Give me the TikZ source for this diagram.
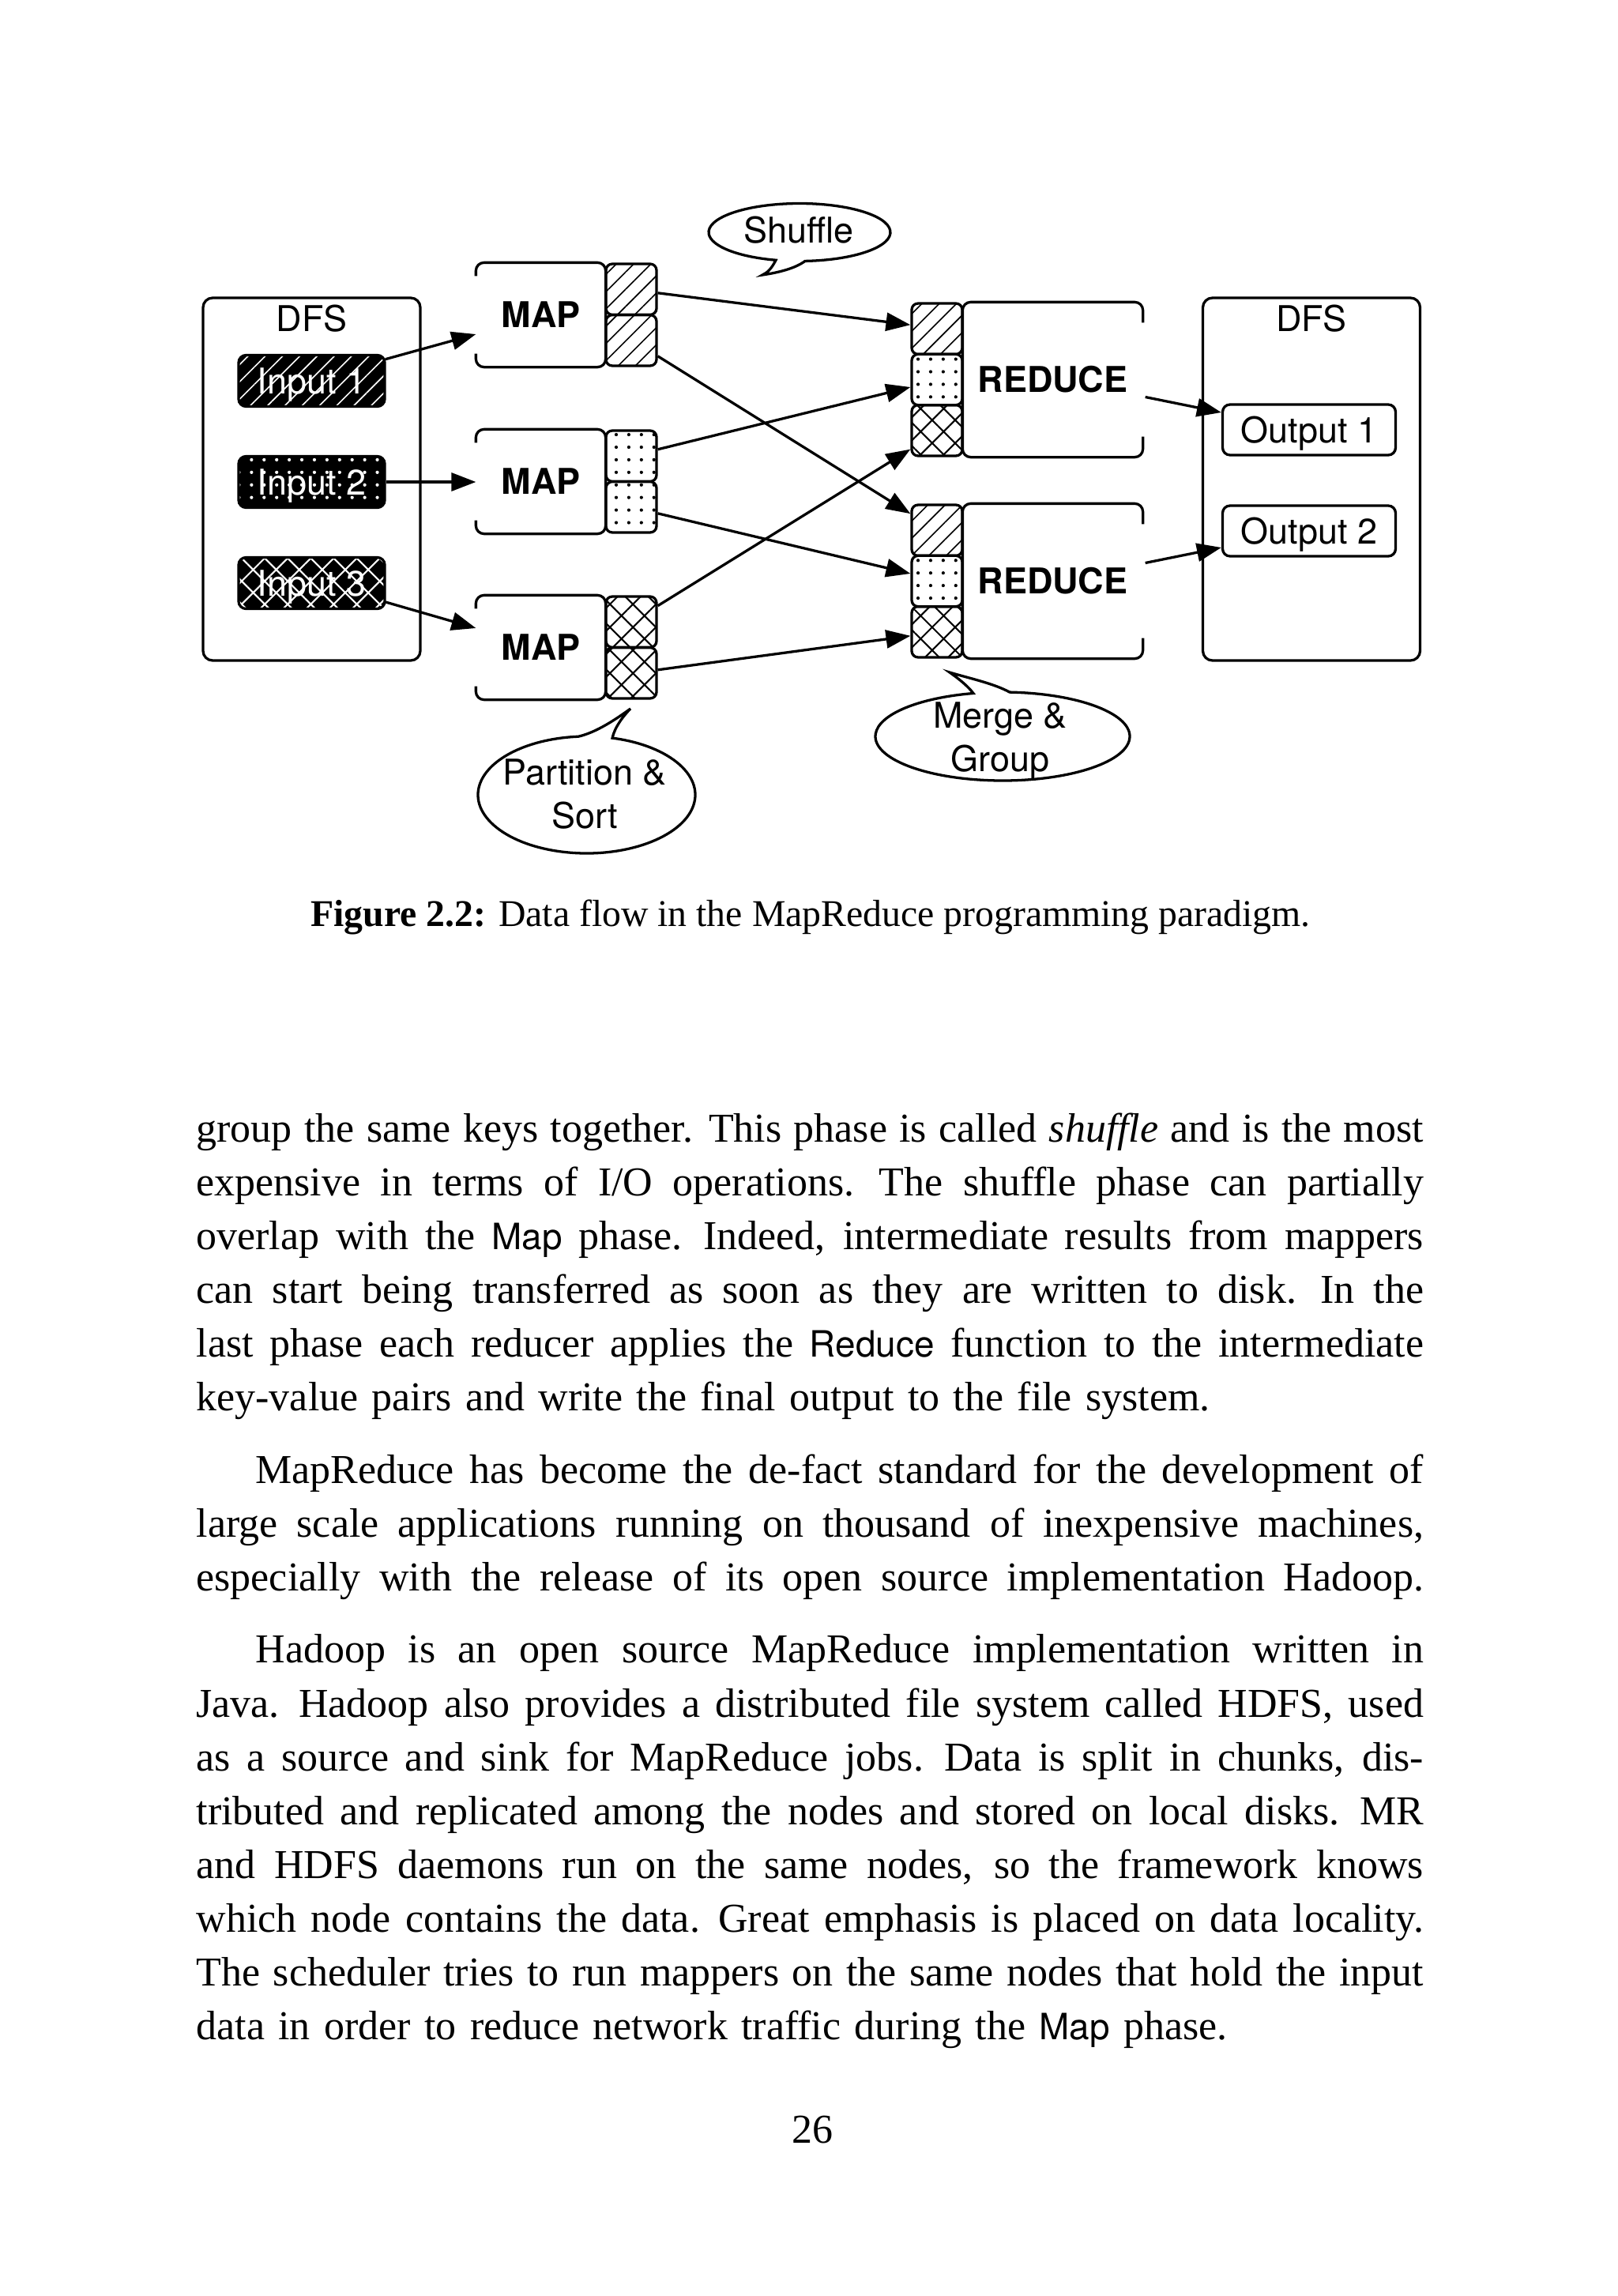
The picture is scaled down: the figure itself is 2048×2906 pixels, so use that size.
\documentclass[tikz,border=0pt]{standalone}
\usepackage{fontspec}
\setmainfont{Liberation Serif}
\setsansfont{TeX Gyre Heros}
\usetikzlibrary{arrows.meta,patterns.meta,calc}
\newlength{\pxu}
\setlength{\pxu}{0.2136pt}
\newlength{\bodyw}
\setlength{\bodyw}{331.8pt}
\newcommand{\sfw}[1]{{\sffamily\fontsize{9.8}{14.55}\selectfont #1}}
\newcommand{\jline}[1]{\hbox to\bodyw{\spaceskip=0.25em plus 0.3em minus 0.1em\xspaceskip=0.33em plus 0.35em minus 0.1em #1}}
\newcommand{\lline}[1]{\hbox{#1}}
\begin{document}
\begin{tikzpicture}[x=\pxu, y=-\pxu,
  line width=0.7pt,
  dfont/.style={font=\sffamily\fontsize{9.6}{11.7}\selectfont},
  bfont/.style={font=\sffamily\bfseries\fontsize{9.6}{11.7}\selectfont},
  bubfont/.style={font=\sffamily\fontsize{9.6}{11.75}\selectfont},
  outline/.style={draw, line width=0.7pt, rounded corners=2.2pt},
  dfsbox/.style={draw, rounded corners=2.6pt, minimum width=275\pxu, minimum height=459\pxu, inner sep=0pt},
  inbox/.style={draw, rounded corners=2pt, minimum width=185\pxu, minimum height=65\pxu, inner sep=0pt, text=white, dfont, text depth=0pt, preaction={fill=black}, pattern color=white},
  outbox/.style={draw, rounded corners=2pt, minimum width=219\pxu, minimum height=64\pxu, inner sep=0pt, dfont, text depth=0pt},
  mapbox/.style={minimum width=161\pxu, minimum height=129\pxu, inner sep=0pt, bfont},
  redbox/.style={minimum width=225\pxu, minimum height=193\pxu, inner sep=0pt, bfont},
  partbox/.style={draw, rounded corners=1.7pt, minimum width=64\pxu, minimum height=64.3\pxu, inner sep=0pt},
  plines/.style={pattern={Lines[angle=45,distance=3.3pt,line width=0.35pt]}},
  pdots/.style={pattern={Dots[distance=3.4pt,radius=0.45pt]}},
  phatch/.style={pattern={Hatch[angle=45,distance=4.4pt,line width=0.45pt]}},
  arr/.style={-{Triangle[length=6.6pt,width=4.9pt]}, line width=0.7pt},
  bubble/.style={draw, fill=white, line width=0.7pt},
  lbl/.style={dfont, inner sep=0pt},
]
\fill[white] (0,0) rectangle (2048,2906);
\useasboundingbox (0,0) rectangle (2048,2906);

% ---------- left DFS ----------
\node[dfsbox] (dfsL) at (394.5,606.5) {};
\node[lbl, anchor=base] (dfsLt) at (394.5,419) {DFS};
\node[inbox, plines] (in1) at (394.5,482) {Input 1};
\node[inbox, pdots] (in2) at (394.5,610) {Input 2};
\node[inbox, phatch] (in3) at (394.5,738) {Input 3};

% ---------- MAP ----------
\node[mapbox] (map1) at (684.5,398.5) {MAP};
\node[mapbox] (map2) at (684.5,609.5) {MAP};
\node[mapbox] (map3) at (684.5,819.5) {MAP};
\foreach \m in {map1,map2,map3}
  \draw[outline] ($(\m.north west)+(0,17)$) |- (\m.north east) |- (\m.south west) -- ++(0,-17);

\node[partbox, plines] (m1a) at (799,366.2) {};
\node[partbox, plines] (m1b) at (799,430.8) {};
\node[partbox, pdots] (m2a) at (799,577.2) {};
\node[partbox, pdots] (m2b) at (799,641.8) {};
\node[partbox, phatch] (m3a) at (799,787.2) {};
\node[partbox, phatch] (m3b) at (799,851.8) {};

% ---------- REDUCE ----------
\node[redbox] (red1) at (1332.5,480.5) {REDUCE};
\node[redbox] (red2) at (1332.5,735.5) {REDUCE};
\foreach \r in {red1,red2}
  \draw[outline] ($(\r.north east)+(0,26)$) |- (\r.north west) |- (\r.south east) -- ++(0,-26);

\node[partbox, plines] (r1a) at (1186,416.2) {};
\node[partbox, pdots] (r1b) at (1186,480.5) {};
\node[partbox, phatch] (r1c) at (1186,544.8) {};
\node[partbox, plines] (r2a) at (1186,671.2) {};
\node[partbox, pdots] (r2b) at (1186,735.5) {};
\node[partbox, phatch] (r2c) at (1186,799.8) {};

% ---------- right DFS ----------
\node[dfsbox] (dfsR) at (1660,606.5) {};
\node[lbl, anchor=base] (dfsRt) at (1660,419) {DFS};
\node[outbox] (out1) at (1657,544) {Output 1};
\node[outbox] (out2) at (1657,672) {Output 2};

% ---------- arrows ----------
\draw[arr] ($(in1.north east)+(0,6)$) -- ($(map1.west)+(0,24.5)$);
\draw[arr] (in2.east) -- (in2.east -| map2.west);
\draw[arr] ($(in3.east)+(0,24)$) -- ($(map3.west)+(0,-24.5)$);

\draw[arr] ($(m1a.east)+(0,4.6)$) -- ($(r1a.west)+(0,-5)$);
\draw[arr] ($(m1b.east)+(0,20)$) -- ($(r2a.west)+(0,-21)$);
\draw[arr] ($(m2a.east)+(0,-8.4)$) -- ($(r1b.west)+(0,9.5)$);
\draw[arr] ($(m2b.east)+(0,8)$) -- ($(r2b.west)+(0,-9.5)$);
\draw[arr] ($(m3a.east)+(0,-20.5)$) -- ($(r1c.west)+(0,23.8)$);
\draw[arr] ($(m3b.east)+(0,-4)$) -- ($(r2c.west)+(0,5)$);

\draw[arr] ($(red1.east)+(3,22)$) -- ($(out1.west)+(0,-22)$);
\draw[arr] ($(red2.east)+(3,-23)$) -- ($(out2.west)+(0,21)$);

% ---------- speech bubbles ----------
\draw[bubble] (1012,294) ++(86.5:115 and 36.5) coordinate (shR)
  arc[start angle=86.5, end angle=-254.9, x radius=115, y radius=36.5]
  .. controls (977,339) and (972,345) .. (965,348)
  .. controls (985,345) and (1006,340) .. (shR) -- cycle;
\node[lbl, anchor=base] (shuft) at (1011,307) {Shuffle};

\draw[bubble] (742.5,1006) ++(-76.3:137.5 and 74) coordinate (psR)
  arc[start angle=-76.3, end angle=265.6, x radius=137.5, y radius=74]
  .. controls (755,927) and (780,910) .. (798,897)
  .. controls (790,905) and (778,920) .. (psR) -- cycle;
\node[bubfont, inner sep=0pt, align=center] (pst) at (740,1005.5) {Partition \&\\Sort};

\draw[bubble] (1269,932) ++(-86.8:161 and 56) coordinate (mgR)
  arc[start angle=-86.8, end angle=256.7, x radius=161, y radius=56]
  .. controls (1225,868) and (1212,858) .. (1202,851)
  .. controls (1225,858) and (1258,865) .. (mgR) -- cycle;
\node[bubfont, inner sep=0pt, align=center] (mgt) at (1266,937.7) {Merge \&\\Group};

% ---------- caption ----------
\node[anchor=base, inner sep=0pt, font=\fontsize{10.2}{12.4}\selectfont] (cap) at (1026,1172)
  {\textbf{Figure 2.2:} Data flow in the MapReduce programming paradigm.};

% ---------- body text ----------
\node[anchor=base west, inner sep=0pt, text width=331.8pt, font=\fontsize{11.1}{14.55}\selectfont] (body) at (247,1445) {%
\hbadness=10000\hfuzz=20pt\relax
\jline{group the same keys together. This phase is called \emph{shuffle} and is the most}
\jline{expensive in terms of I/O operations.  The shuffle phase can partially}
\jline{overlap with the \sfw{Map} phase. Indeed, intermediate results from mappers}
\jline{can start being transferred as soon as they are written to disk.  In the}
\jline{last phase each reducer applies the \sfw{Reduce} function to the intermediate}
\lline{key-value pairs and write the final output to the file system.}
\vskip5pt
\jline{\hskip16pt MapReduce has become the de-fact standard for the development of}
\jline{large scale applications running on thousand of inexpensive machines,}
\jline{especially with the release of its open source implementation Hadoop.}
\vskip5pt
\jline{\hskip16pt Hadoop is an open source MapReduce implementation written in}
\jline{Java. Hadoop also provides a distributed file system called HDFS, used}
\jline{as a source and sink for MapReduce jobs. Data is split in chunks, dis-}
\jline{tributed and replicated among the nodes and stored on local disks. MR}
\jline{and HDFS daemons run on the same nodes, so the framework knows}
\jline{which node contains the data. Great emphasis is placed on data locality.}
\jline{The scheduler tries to run mappers on the same nodes that hold the input}
\lline{data in order to reduce network traffic during the \sfw{Map} phase.}
};

% ---------- page number ----------
\node[anchor=base, inner sep=0pt, font=\fontsize{11.1}{13}\selectfont] (pg) at (1028,2712) {26};
\end{tikzpicture}
\end{document}
